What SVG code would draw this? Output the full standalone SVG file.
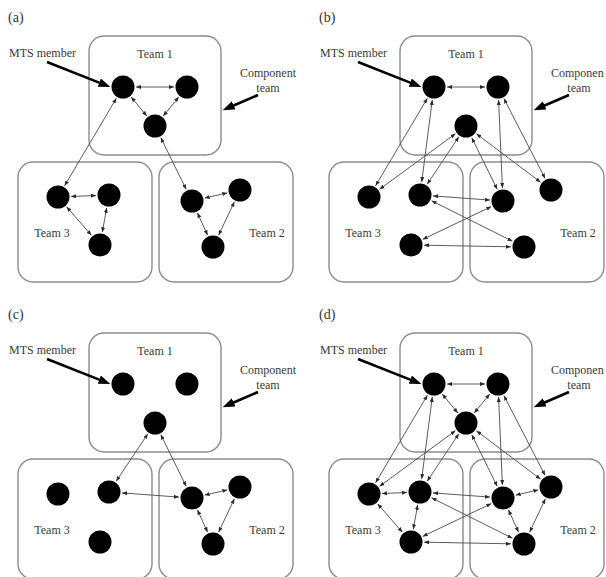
<svg xmlns="http://www.w3.org/2000/svg" width="606" height="577" viewBox="0 0 606 577">
<style>
.bg{fill:#fff}
.box{fill:none;stroke:#8c8c8c;stroke-width:1.4}
.node circle{fill:#000}
.edge{stroke:#4a4a4a;stroke-width:0.9;fill:none;marker-start:url(#ah);marker-end:url(#ah)}
.call{stroke:#000;stroke-width:2.6;fill:none;marker-end:url(#big)}
.lbl{font-family:"Liberation Serif","Times New Roman",serif;font-size:12px;fill:#3a3a3a}
.mid{text-anchor:middle}
.ptl{font-family:"Liberation Serif","Times New Roman",serif;font-size:14px;fill:#333}
</style>
<defs>
<marker id="ah" viewBox="0 0 10 10" refX="10" refY="5" markerWidth="5" markerHeight="4" markerUnits="userSpaceOnUse" orient="auto-start-reverse" preserveAspectRatio="none"><path d="M0,0 L10,5 L0,10 z" fill="#2a2a2a"/></marker>
<marker id="big" viewBox="0 0 10 10" refX="0.5" refY="5" markerWidth="12" markerHeight="9" markerUnits="userSpaceOnUse" orient="auto" preserveAspectRatio="none"><path d="M0,0 L10,5 L0,10 z" fill="#000"/></marker>
</defs>
<rect class="bg" x="0" y="0" width="606" height="577"/>

<!-- Panel (a) -->
<g id="panel-a">
  <text class="ptl" x="8" y="22">(a)</text>
  <g id="a-boxes">
    <rect id="a-team1" class="box" x="89" y="36" width="132" height="119" rx="15"/>
    <rect id="a-team3" class="box" x="18" y="162" width="134" height="120" rx="15"/>
    <rect id="a-team2" class="box" x="159" y="162" width="134" height="120" rx="15"/>
  </g>
  <g id="a-connectors">
    <line class="edge" x1="136" y1="87" x2="174" y2="87"/>
    <line class="edge" x1="131.2" y1="97" x2="146.8" y2="116"/>
    <line class="edge" x1="178.8" y1="97" x2="163.2" y2="116"/>
    <line class="edge" x1="116.4" y1="98.2" x2="64.6" y2="185.8"/>
    <line class="edge" x1="160.8" y1="137.7" x2="186.2" y2="189.3"/>
    <line class="edge" x1="71" y1="196.5" x2="96" y2="195.5"/>
    <line class="edge" x1="66.6" y1="206.8" x2="91.4" y2="235.2"/>
    <line class="edge" x1="106.7" y1="207.8" x2="102.3" y2="232.2"/>
    <line class="edge" x1="204.7" y1="198.1" x2="227.3" y2="192.9"/>
    <line class="edge" x1="197.4" y1="212.8" x2="207.6" y2="235.2"/>
    <line class="edge" x1="234.4" y1="201.8" x2="218.6" y2="235.2"/>
    <line class="call" x1="47" y1="62" x2="99.8" y2="82.9"/>
    <line class="call" x1="258" y1="95" x2="233.1" y2="105.7"/>
  </g>
  <g id="a-t1-n1" class="node"><circle cx="123" cy="87" r="11.5"/></g>
  <g id="a-t1-n2" class="node"><circle cx="187" cy="87" r="11.5"/></g>
  <g id="a-t1-n3" class="node"><circle cx="155" cy="126" r="11.5"/></g>
  <g id="a-t3-n1" class="node"><circle cx="58" cy="197" r="11.5"/></g>
  <g id="a-t3-n2" class="node"><circle cx="109" cy="195" r="11.5"/></g>
  <g id="a-t3-n3" class="node"><circle cx="100" cy="245" r="11.5"/></g>
  <g id="a-t2-n1" class="node"><circle cx="192" cy="201" r="11.5"/></g>
  <g id="a-t2-n2" class="node"><circle cx="240" cy="190" r="11.5"/></g>
  <g id="a-t2-n3" class="node"><circle cx="213" cy="247" r="11.5"/></g>
  <text class="lbl" x="9" y="57">MTS member</text>
  <text class="lbl mid" x="155" y="58">Team 1</text>
  <text class="lbl mid" x="268" y="77">Component</text>
  <text class="lbl mid" x="268" y="92">team</text>
  <text class="lbl mid" x="52" y="237">Team 3</text>
  <text class="lbl mid" x="267" y="237">Team 2</text>
</g>

<!-- Panel (b) -->
<g id="panel-b" transform="translate(311,0)">
  <text class="ptl" x="8" y="22">(b)</text>
  <g id="b-boxes">
    <rect id="b-team1" class="box" x="89" y="36" width="132" height="119" rx="15"/>
    <rect id="b-team3" class="box" x="18" y="162" width="134" height="120" rx="15"/>
    <rect id="b-team2" class="box" x="159" y="162" width="134" height="120" rx="15"/>
  </g>
  <g id="b-connectors">
    <line class="edge" x1="136" y1="87" x2="174" y2="87"/>
    <line class="edge" x1="116.4" y1="98.2" x2="64.6" y2="185.8"/>
    <line class="edge" x1="121.3" y1="99.9" x2="110.7" y2="182.1"/>
    <line class="edge" x1="144.5" y1="133.7" x2="68.5" y2="189.3"/>
    <line class="edge" x1="147.8" y1="136.8" x2="116.2" y2="184.2"/>
    <line class="edge" x1="160.8" y1="137.7" x2="186.2" y2="189.3"/>
    <line class="edge" x1="187.6" y1="100" x2="191.4" y2="188"/>
    <line class="edge" x1="192.9" y1="98.6" x2="234.1" y2="178.4"/>
    <line class="edge" x1="165.4" y1="133.8" x2="229.6" y2="182.2"/>
    <line class="edge" x1="122" y1="195.9" x2="179" y2="200.1"/>
    <line class="edge" x1="120.6" y1="200.8" x2="201.4" y2="241.2"/>
    <line class="edge" x1="111.7" y1="239.4" x2="180.3" y2="206.6"/>
    <line class="edge" x1="113" y1="245.2" x2="200" y2="246.8"/>
    <line class="call" x1="47" y1="62" x2="99.8" y2="82.9"/>
    <line class="call" x1="258" y1="95" x2="233.1" y2="105.7"/>
  </g>
  <g id="b-t1-n1" class="node"><circle cx="123" cy="87" r="11.5"/></g>
  <g id="b-t1-n2" class="node"><circle cx="187" cy="87" r="11.5"/></g>
  <g id="b-t1-n3" class="node"><circle cx="155" cy="126" r="11.5"/></g>
  <g id="b-t3-n1" class="node"><circle cx="58" cy="197" r="11.5"/></g>
  <g id="b-t3-n2" class="node"><circle cx="109" cy="195" r="11.5"/></g>
  <g id="b-t3-n3" class="node"><circle cx="100" cy="245" r="11.5"/></g>
  <g id="b-t2-n1" class="node"><circle cx="192" cy="201" r="11.5"/></g>
  <g id="b-t2-n2" class="node"><circle cx="240" cy="190" r="11.5"/></g>
  <g id="b-t2-n3" class="node"><circle cx="213" cy="247" r="11.5"/></g>
  <text class="lbl" x="9" y="57">MTS member</text>
  <text class="lbl mid" x="155" y="58">Team 1</text>
  <text class="lbl" x="240" y="77">Componen</text>
  <text class="lbl mid" x="268" y="92">team</text>
  <text class="lbl mid" x="52" y="237">Team 3</text>
  <text class="lbl mid" x="267" y="237">Team 2</text>
</g>

<!-- Panel (c) -->
<g id="panel-c" transform="translate(0,297)">
  <text class="ptl" x="8" y="22">(c)</text>
  <g id="c-boxes">
    <rect id="c-team1" class="box" x="89" y="36" width="132" height="119" rx="15"/>
    <rect id="c-team3" class="box" x="18" y="162" width="134" height="120" rx="15"/>
    <rect id="c-team2" class="box" x="159" y="162" width="134" height="120" rx="15"/>
  </g>
  <g id="c-connectors">
    <line class="edge" x1="147.8" y1="136.8" x2="116.2" y2="184.2"/>
    <line class="edge" x1="160.8" y1="137.7" x2="186.2" y2="189.3"/>
    <line class="edge" x1="122" y1="195.9" x2="179" y2="200.1"/>
    <line class="edge" x1="204.7" y1="198.1" x2="227.3" y2="192.9"/>
    <line class="edge" x1="197.4" y1="212.8" x2="207.6" y2="235.2"/>
    <line class="edge" x1="234.4" y1="201.8" x2="218.6" y2="235.2"/>
    <line class="call" x1="47" y1="62" x2="99.8" y2="82.9"/>
    <line class="call" x1="258" y1="95" x2="233.1" y2="105.7"/>
  </g>
  <g id="c-t1-n1" class="node"><circle cx="123" cy="87" r="11.5"/></g>
  <g id="c-t1-n2" class="node"><circle cx="187" cy="87" r="11.5"/></g>
  <g id="c-t1-n3" class="node"><circle cx="155" cy="126" r="11.5"/></g>
  <g id="c-t3-n1" class="node"><circle cx="58" cy="197" r="11.5"/></g>
  <g id="c-t3-n2" class="node"><circle cx="109" cy="195" r="11.5"/></g>
  <g id="c-t3-n3" class="node"><circle cx="100" cy="245" r="11.5"/></g>
  <g id="c-t2-n1" class="node"><circle cx="192" cy="201" r="11.5"/></g>
  <g id="c-t2-n2" class="node"><circle cx="240" cy="190" r="11.5"/></g>
  <g id="c-t2-n3" class="node"><circle cx="213" cy="247" r="11.5"/></g>
  <text class="lbl" x="9" y="57">MTS member</text>
  <text class="lbl mid" x="155" y="58">Team 1</text>
  <text class="lbl mid" x="268" y="77">Component</text>
  <text class="lbl mid" x="268" y="92">team</text>
  <text class="lbl mid" x="52" y="237">Team 3</text>
  <text class="lbl mid" x="267" y="237">Team 2</text>
</g>

<!-- Panel (d) -->
<g id="panel-d" transform="translate(311,297)">
  <text class="ptl" x="8" y="22">(d)</text>
  <g id="d-boxes">
    <rect id="d-team1" class="box" x="89" y="36" width="132" height="119" rx="15"/>
    <rect id="d-team3" class="box" x="18" y="162" width="134" height="120" rx="15"/>
    <rect id="d-team2" class="box" x="159" y="162" width="134" height="120" rx="15"/>
  </g>
  <g id="d-connectors">
    <line class="edge" x1="136" y1="87" x2="174" y2="87"/>
    <line class="edge" x1="131.2" y1="97" x2="146.8" y2="116"/>
    <line class="edge" x1="178.8" y1="97" x2="163.2" y2="116"/>
    <line class="edge" x1="116.4" y1="98.2" x2="64.6" y2="185.8"/>
    <line class="edge" x1="160.8" y1="137.7" x2="186.2" y2="189.3"/>
    <line class="edge" x1="71" y1="196.5" x2="96" y2="195.5"/>
    <line class="edge" x1="66.6" y1="206.8" x2="91.4" y2="235.2"/>
    <line class="edge" x1="106.7" y1="207.8" x2="102.3" y2="232.2"/>
    <line class="edge" x1="204.7" y1="198.1" x2="227.3" y2="192.9"/>
    <line class="edge" x1="197.4" y1="212.8" x2="207.6" y2="235.2"/>
    <line class="edge" x1="234.4" y1="201.8" x2="218.6" y2="235.2"/>
    <line class="edge" x1="121.3" y1="99.9" x2="110.7" y2="182.1"/>
    <line class="edge" x1="144.5" y1="133.7" x2="68.5" y2="189.3"/>
    <line class="edge" x1="147.8" y1="136.8" x2="116.2" y2="184.2"/>
    <line class="edge" x1="187.6" y1="100" x2="191.4" y2="188"/>
    <line class="edge" x1="192.9" y1="98.6" x2="234.1" y2="178.4"/>
    <line class="edge" x1="165.4" y1="133.8" x2="229.6" y2="182.2"/>
    <line class="edge" x1="122" y1="195.9" x2="179" y2="200.1"/>
    <line class="edge" x1="120.6" y1="200.8" x2="201.4" y2="241.2"/>
    <line class="edge" x1="111.7" y1="239.4" x2="180.3" y2="206.6"/>
    <line class="edge" x1="113" y1="245.2" x2="200" y2="246.8"/>
    <line class="call" x1="47" y1="62" x2="99.8" y2="82.9"/>
    <line class="call" x1="258" y1="95" x2="233.1" y2="105.7"/>
  </g>
  <g id="d-t1-n1" class="node"><circle cx="123" cy="87" r="11.5"/></g>
  <g id="d-t1-n2" class="node"><circle cx="187" cy="87" r="11.5"/></g>
  <g id="d-t1-n3" class="node"><circle cx="155" cy="126" r="11.5"/></g>
  <g id="d-t3-n1" class="node"><circle cx="58" cy="197" r="11.5"/></g>
  <g id="d-t3-n2" class="node"><circle cx="109" cy="195" r="11.5"/></g>
  <g id="d-t3-n3" class="node"><circle cx="100" cy="245" r="11.5"/></g>
  <g id="d-t2-n1" class="node"><circle cx="192" cy="201" r="11.5"/></g>
  <g id="d-t2-n2" class="node"><circle cx="240" cy="190" r="11.5"/></g>
  <g id="d-t2-n3" class="node"><circle cx="213" cy="247" r="11.5"/></g>
  <text class="lbl" x="9" y="57">MTS member</text>
  <text class="lbl mid" x="155" y="58">Team 1</text>
  <text class="lbl" x="240" y="77">Componen</text>
  <text class="lbl mid" x="268" y="92">team</text>
  <text class="lbl mid" x="52" y="237">Team 3</text>
  <text class="lbl mid" x="267" y="237">Team 2</text>
</g>
</svg>
